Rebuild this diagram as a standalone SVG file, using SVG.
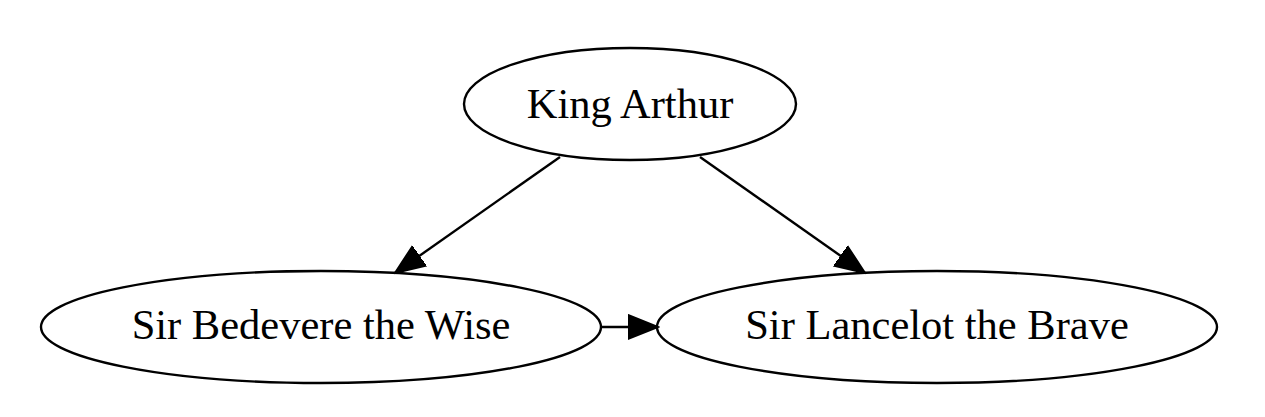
<svg xmlns="http://www.w3.org/2000/svg" width="1265" height="417" viewBox="0 0 1265 417">
<style>
.node ellipse{fill:none;stroke:#000;stroke-width:2.4}
.node text{font-family:"Liberation Serif","Times New Roman",serif;font-size:42.5px;fill:#000;text-anchor:middle}
.edges line{stroke:#000;stroke-width:2.4;marker-end:url(#arrow)}
</style>
<defs>
<marker id="arrow" markerUnits="userSpaceOnUse" markerWidth="32" markerHeight="28" viewBox="0 -14 32 28" refX="30" refY="0" orient="auto">
<path d="M0,-12 L30,0 L0,12 Z" fill="#000" stroke="#000" stroke-width="2"/>
</marker>
</defs>
<rect width="1265" height="417" fill="#fff"/>
<g class="edges">
<line x1="560" y1="157" x2="395" y2="273"/>
<line x1="700" y1="157" x2="865" y2="273"/>
<line x1="601" y1="327" x2="658" y2="327"/>
</g>
<g class="node" id="arthur">
<ellipse cx="630" cy="104" rx="166" ry="56"/>
<text x="630" y="117.5">King Arthur</text>
</g>
<g class="node" id="bedevere">
<ellipse cx="321" cy="327" rx="280" ry="56"/>
<text x="321" y="339">Sir Bedevere the Wise</text>
</g>
<g class="node" id="lancelot">
<ellipse cx="937" cy="327" rx="280" ry="56"/>
<text x="937" y="339">Sir Lancelot the Brave</text>
</g>
</svg>
